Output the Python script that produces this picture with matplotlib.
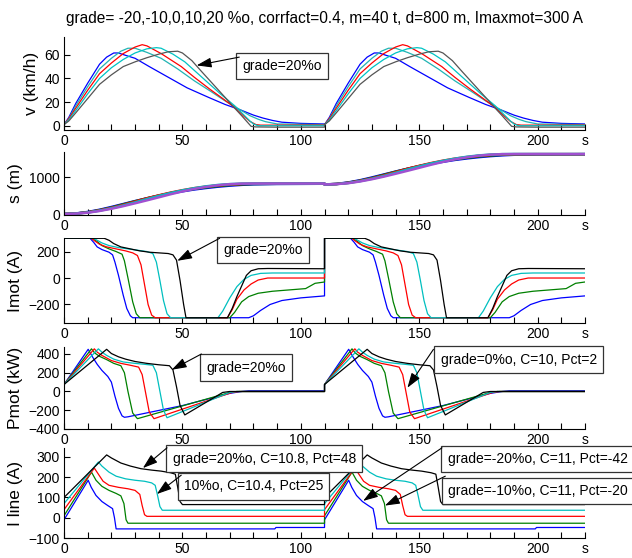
import numpy as np
import matplotlib
matplotlib.use("Agg")
import matplotlib.pyplot as plt

plt.rcParams['font.family'] = ['Liberation Sans', 'DejaVu Sans']

# ---------------------------------------------------------------
# data: one run (0..110 s); the second run starts at t = 110 s
# order: grade -20, -10, 0, 10, 20 %o
# ---------------------------------------------------------------
RUN_START = 110
RUN_DIST = 800

# speed v (km/h)
v_t = [
    [0, 2, 5, 10, 15, 18, 21, 23, 26, 30, 36, 44, 52, 61, 68, 75, 80, 84, 88, 92, 100, 110],
    [0, 2, 5, 10, 15, 20, 24, 27, 30, 35, 41, 48, 55, 62, 68, 74, 78.5, 82, 85, 90, 110],
    [0, 2, 5, 10, 15, 20, 25, 30, 33, 35, 41, 49.5, 55, 61.5, 67, 72, 76, 78.5, 81, 83, 110],
    [0, 2, 5, 10, 15, 20, 25, 30, 35, 39, 41, 46, 51, 56, 61, 66, 72, 76, 78.5, 80, 82, 110],
    [0, 2, 5, 10, 15, 20, 25, 30, 35, 40, 44, 48, 50, 54, 58, 63, 68, 72, 75, 77, 79, 81, 90, 110],
]
v_val = [
    [1, 7, 19, 36, 52, 58, 61.5, 61.5, 59.5, 57, 50, 41, 32, 24, 18, 13, 9, 6.5, 4.5, 3, 2, 1.5],
    [1, 6, 17, 33, 48, 57, 63, 65.5, 65.5, 62, 57, 48, 38, 29, 21, 14, 8.5, 5.5, 3.5, 1.5, 1],
    [1, 6, 15, 30, 44, 53, 61, 66.5, 68.5, 67.5, 61, 50, 41, 31, 23, 15.5, 8, 3.7, 1, 0.5, 0.5],
    [1, 5, 13, 27, 40, 49, 56, 61.5, 65, 66, 65.5, 60.5, 54, 45, 36, 27, 17, 9, 4, 1.5, 0, 0],
    [1, 4, 11, 23, 35, 43, 50, 54, 57.5, 60.5, 62.5, 63, 61.5, 55, 46, 35, 24, 15, 8.5, 4, -0.5, -1, -1.2, -1.2],
]

# distance s (m)
s_t = [0, 5, 10, 15, 20, 25, 30, 35, 40, 45, 50, 55, 60, 65, 70, 75, 80, 90, 110]
s_val = [
    [0, 15, 55, 115, 190, 270, 350, 425, 495, 560, 615, 665, 705, 740, 768, 790, 805, 815, 820],
    [0, 13, 48, 105, 175, 260, 345, 425, 500, 570, 630, 680, 722, 758, 785, 803, 812, 818, 820],
    [0, 12, 44, 98, 165, 245, 335, 425, 505, 580, 645, 700, 742, 775, 800, 815, 820, 822, 822],
    [0, 11, 40, 90, 155, 230, 315, 405, 490, 570, 640, 700, 750, 787, 810, 822, 825, 825, 825],
    [0, 10, 35, 82, 142, 212, 290, 370, 452, 535, 612, 680, 735, 780, 808, 822, 825, 825, 825],
]

# motor current Imot (A)
im_t = [
    [0, 11, 12.5, 14, 16, 19, 20.5, 21.5, 23, 25, 26.5, 28, 29, 78, 80, 83, 87, 92, 100, 110],
    [0, 12, 14, 16, 19, 22, 24.5, 25.5, 27, 29, 30.5, 32, 70, 72, 75, 78, 82, 88, 95, 102, 104, 106, 110],
    [0, 11.5, 13, 15, 18, 22, 26, 29, 31, 32.5, 34, 35.5, 37, 38.5, 69, 71, 73, 76, 79, 82, 86, 110],
    [0, 12.5, 14, 16, 19, 23, 27, 31, 35, 37.5, 39, 40.5, 42, 43.5, 45, 65, 67, 70, 73, 76, 79, 83, 88, 110],
    [0, 17, 19, 21, 24, 28, 32, 36, 40, 44, 46, 47.5, 49, 50.5, 51.5, 69, 71, 73, 75, 77, 79, 82, 86, 110],
]
im_val = [
    [300, 300, 270, 235, 215, 195, 175, 120, 20, -130, -230, -285, -300, -300, -285, -245, -200, -170, -150, -135],
    [300, 300, 275, 245, 220, 200, 180, 130, 0, -180, -270, -300, -300, -260, -180, -140, -115, -100, -90, -80, -60, -40, -30],
    [300, 300, 280, 255, 235, 220, 205, 190, 170, 100, -50, -200, -280, -300, -300, -240, -160, -90, -45, -15, 0, 0],
    [300, 300, 285, 265, 245, 230, 220, 210, 200, 185, 120, -20, -170, -270, -300, -300, -250, -150, -65, -10, 20, 35, 38, 38],
    [300, 300, 285, 260, 235, 220, 205, 195, 190, 185, 175, 135, -20, -200, -300, -300, -230, -140, -60, 20, 55, 70, 72, 70],
]

# motor power Pmot (kW)
pm_t = [
    [0, 10.2, 12, 14, 16, 18.5, 20, 21.5, 23, 24.5, 25.5, 27, 50, 70, 75, 78, 110],
    [0, 11.6, 13, 15, 18, 21, 24, 25.5, 27, 29, 31, 70, 73, 110],
    [0, 12.8, 14, 16, 20, 24, 28, 31.5, 33, 34.5, 36, 38, 71, 74, 110],
    [0, 14.5, 16, 18, 21, 25, 30, 34, 37.5, 39, 40.5, 42, 43.5, 70, 73, 110],
    [0, 18, 20, 23, 26, 30, 35, 40, 44.5, 46, 47.5, 49, 51, 67, 70, 110],
]
pm_val = [
    [75, 450, 370, 290, 225, 160, 100, -50, -180, -260, -275, -270, -150, -20, 0, 8, 8],
    [75, 455, 410, 375, 340, 300, 275, 200, 0, -230, -290, -10, 0, 0],
    [75, 455, 420, 385, 330, 300, 280, 260, 180, -20, -220, -290, -10, 0, 0],
    [75, 455, 420, 385, 345, 315, 300, 290, 280, 200, 0, -200, -280, -10, 0, 0],
    [75, 450, 405, 370, 345, 320, 300, 285, 275, 230, 50, -150, -250, -10, 0, 0],
]

# line current I line (A)
il_t = [
    [0, 10.2, 11.5, 13.5, 16, 18.5, 20.5, 21.3, 22, 89, 89.5, 110],
    [0, 11.6, 13.5, 16, 19, 22, 24, 25.3, 26.2, 27, 110],
    [0, 12.8, 14.5, 16.5, 19, 23, 27, 30, 32, 33, 34, 35, 110],
    [0, 14.5, 16, 19, 22, 26, 30, 34, 37, 38.5, 39.5, 40.5, 41.5, 110],
    [0, 18, 20, 24, 28, 32.5, 37, 41, 45, 47, 48, 49, 50, 110],
]
il_val = [
    [-10, 185, 150, 110, 80, 60, 45, 0, -55, -55, -48, -48],
    [10, 225, 185, 155, 135, 120, 108, 70, -10, -27, -27],
    [40, 245, 215, 180, 160, 150, 143, 135, 115, 60, 15, 7, 7],
    [70, 275, 255, 225, 205, 192, 185, 180, 172, 160, 110, 55, 37, 37],
    [100, 310, 295, 270, 255, 242, 235, 230, 222, 215, 150, 80, 65, 65],
]

colors = ['#0000ff', '#008000', '#ff0000', '#00bfbf', '#000000']
colors_v = ['#0000ff', '#22b4b4', '#ff0000', '#00c4c4', '#555555']
colors_s = ['#0000ff', '#008000', '#ff0000', '#00bfbf', '#a050d0']


def two_runs(t, y, dy=0):
    t = np.asarray(t, float)
    y = np.asarray(y, float)
    return np.concatenate([t, t + RUN_START]), np.concatenate([y, y + dy])


def style_axes(ax, ylim, yticks, ylabel):
    ax.set_xlim(0, 220)
    ax.set_ylim(*ylim)
    ax.spines['top'].set_visible(False)
    ax.spines['right'].set_visible(False)
    ax.set_xticks(range(0, 230, 10))
    ax.set_xticklabels([str(x) if x % 50 == 0 and x < 220 else ('s' if x == 220 else '')
                        for x in range(0, 230, 10)])
    ax.set_yticks(yticks)
    ax.tick_params(direction='in', length=4, width=0.8, labelsize=10, pad=3)
    ax.set_ylabel(ylabel, fontsize=12.5)
    for sp in ax.spines.values():
        sp.set_linewidth(0.8)


def box_arrow(ax, text, xy_text, tail, head):
    ax.text(xy_text[0], xy_text[1], text, ha='center', va='center', fontsize=10,
            bbox=dict(boxstyle='square,pad=0.45', fc='white', ec='#333333', lw=0.9), zorder=5)
    ax.annotate('', xy=head, xytext=tail, zorder=6, annotation_clip=False,
                arrowprops=dict(arrowstyle='-|>,head_length=0.9,head_width=0.3',
                                color='k', lw=0.8, shrinkA=0, shrinkB=0))


fig = plt.figure(figsize=(6.32, 5.58), dpi=100)
L, W = 0.1013, 0.8244
ax1 = fig.add_axes([L, 0.767, W, 0.1667])
ax2 = fig.add_axes([L, 0.6147, W, 0.1129])
ax3 = fig.add_axes([L, 0.4211, W, 0.1523])
ax4 = fig.add_axes([L, 0.2312, W, 0.147])
ax5 = fig.add_axes([L, 0.0358, W, 0.1613])

for i in range(5):
    ax1.plot(*two_runs(v_t[i], v_val[i]), color=colors_v[i], lw=0.9)
    ax2.plot(*two_runs(s_t, s_val[i], RUN_DIST), color=colors_s[i], lw=1.8)
    ax3.plot(*two_runs(im_t[i], im_val[i]), color=colors[i], lw=0.9)
    ax4.plot(*two_runs(pm_t[i], pm_val[i]), color=colors[i], lw=0.9)
    ax5.plot(*two_runs(il_t[i], il_val[i]), color=colors[i], lw=0.9)

style_axes(ax1, (-3.6, 75), [0, 20, 40, 60], 'v (km/h)')
style_axes(ax2, (-27, 1680), [0, 1000], 's (m)')
style_axes(ax3, (-340, 302), [-200, 0, 200], 'Imot (A)')
style_axes(ax4, (-400, 475), [-400, -200, 0, 200, 400], 'Pmot (kW)')
style_axes(ax5, (-100, 344), [-100, 0, 100, 200, 300], 'I line (A)')

ax1.set_title('grade= -20,-10,0,10,20 %o, corrfact=0.4, m=40 t, d=800 m, Imaxmot=300 A',
              fontsize=11.2, pad=10)

box_arrow(ax1, 'grade=20%o', (92, 50.5), (74, 58), (56, 51))
box_arrow(ax3, 'grade=20%o', (84, 210), (65.7, 300), (47.8, 130))
box_arrow(ax4, 'grade=20%o', (77, 255), (58, 400), (45.5, 232))
box_arrow(ax4, 'grade=0%o, C=10, Pct=2', (192, 340), (156, 450), (145, 40))
box_arrow(ax5, 'grade=20%o, C=10.8, Pct=48', (84.5, 292), (43.5, 345), (33.3, 245))
box_arrow(ax5, '10%o, C=10.4, Pct=25', (80, 155), (49.5, 210), (39.2, 117))
box_arrow(ax5, 'grade=-20%o, C=11, Pct=-42', (200, 290), (159.6, 345), (126.3, 83))
box_arrow(ax5, 'grade=-10%o, C=11, Pct=-20', (200, 133), (161, 205), (135.5, 60))

fig.savefig('out.png', dpi=100)
